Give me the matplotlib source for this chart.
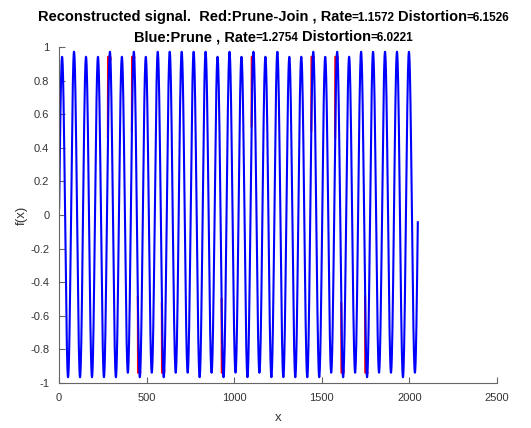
import numpy as np
import matplotlib.pyplot as plt

# length of the test signal and number of cycles it holds
n_samples = 2048
n_cycles = 30

# height of every peak / depth of every trough of the reconstructed signals
blue_peaks = [0.942, 0.972, 0.942, 0.942, 0.972, 0.942, 0.972, 0.942, 0.972, 0.972,
              0.972, 0.972, 0.972, 0.942, 0.972, 0.942, 0.972, 0.942, 0.972, 0.942,
              0.942, 0.972, 0.942, 0.972, 0.942, 0.972, 0.972, 0.972, 0.972, 0.972]
blue_troughs = [-0.966, -0.966, -0.966, -0.966, -0.966, -0.939, -0.966, -0.939, -0.966, -0.939,
                -0.939, -0.966, -0.939, -0.966, -0.939, -0.966, -0.939, -0.966, -0.966, -0.966,
                -0.966, -0.966, -0.939, -0.966, -0.939, -0.966, -0.939, -0.939, -0.966, -0.939]
red_peaks = [0.942, 0.972, 0.942, 0.942, 0.942, 0.942, 0.942, 0.942, 0.972, 0.972,
             0.972, 0.972, 0.972, 0.942, 0.972, 0.942, 0.942, 0.942, 0.972, 0.942,
             0.942, 0.942, 0.942, 0.942, 0.942, 0.972, 0.972, 0.972, 0.972, 0.972]
red_troughs = [-0.966, -0.966, -0.966, -0.966, -0.966, -0.939, -0.939, -0.939, -0.939, -0.939,
               -0.939, -0.966, -0.939, -0.939, -0.939, -0.966, -0.939, -0.966, -0.966, -0.966,
               -0.966, -0.966, -0.939, -0.939, -0.939, -0.939, -0.939, -0.939, -0.966, -0.939]

x_ticks = [0, 500, 1000, 1500, 2000, 2500]
y_ticks = [-1, -0.8, -0.6, -0.4, -0.2, 0, 0.2, 0.4, 0.6, 0.8, 1]


def half_cycle_amplitudes(peaks, troughs):
    amp = np.empty(2 * len(peaks))
    amp[0::2] = peaks
    amp[1::2] = np.abs(troughs)
    return amp


x = np.arange(1, n_samples + 1)
theta = 2 * np.pi * n_cycles * (x - 0.5) / n_samples
half = np.clip((theta // np.pi).astype(int), 0, 2 * n_cycles - 1)
s = np.sin(theta)
rising = (theta % np.pi) < np.pi / 2

blue_amp = half_cycle_amplitudes(blue_peaks, blue_troughs)
red_amp = half_cycle_amplitudes(red_peaks, red_troughs)
blue = blue_amp[half] * s

# where the join step changed an extremum, red steps up early to a flat top
lim = red_amp[half]
capped = np.sign(s) * np.minimum(np.abs(blue), lim)
stepped = np.where(rising & (np.abs(s) > 0.55), np.sign(s) * lim, capped)
red = np.where(red_amp[half] != blue_amp[half], stepped, blue)

# red is hidden under blue wherever they agree, so only draw the parts that differ
differs = red != blue
keep = differs | np.roll(differs, 1) | np.roll(differs, -1)
red_shown = np.where(keep, red, np.nan)

fig = plt.figure(figsize=(5.31, 4.28), dpi=100)
ax = fig.add_axes([59 / 531, 1 - 383 / 428, 438 / 531, 336 / 428])

ax.plot(x, red_shown, color='red', lw=1.5)
ax.plot(x, blue, color='blue', lw=1.5)

ax.set_xlim(0, 2500)
ax.set_ylim(-1, 1)
ax.set_xticks(x_ticks)
ax.set_xticklabels([str(v) for v in x_ticks])
ax.set_yticks(y_ticks)
ax.set_yticklabels(['%g' % v for v in y_ticks])
ax.tick_params(direction='in', length=4, width=0.8, color='#666666',
               labelsize=8, labelcolor='#333333', pad=7)
for side in ['top', 'right']:
    ax.spines[side].set_visible(False)
for side in ['left', 'bottom']:
    ax.spines[side].set_color('#666666')
    ax.spines[side].set_linewidth(0.8)
for lab in ax.get_xticklabels() + ax.get_yticklabels():
    lab.set_family('Liberation Sans')

ax.set_xlabel('x', fontsize=9.5, color='#333333', family='Liberation Sans', labelpad=7)
ax.set_ylabel('f(x)', fontsize=9.5, color='#333333', family='Liberation Sans', labelpad=2)

# two-line title with the numbers set in a smaller type
renderer = fig.canvas.get_renderer()
W, H = fig.bbox.width, fig.bbox.height


def title_line(y_px, parts, cx_px=273.5):
    texts, widths = [], []
    for text, size, gap in parts:
        t = fig.text(0, 1 - y_px / H, text, fontsize=size, fontweight='bold',
                     family='Liberation Sans', va='baseline', ha='left')
        texts.append(t)
        widths.append(t.get_window_extent(renderer).width + gap)
    x0 = cx_px - sum(widths) / 2
    for t, w in zip(texts, widths):
        t.set_x(x0 / W)
        x0 += w


big, small = 10.5, 8.5
title_line(21, [('Reconstructed signal.  Red:Prune-Join , Rate', big, 0),
                ('=1.1572', small, 3),
                ('Distortion', big, 0),
                ('=6.1526', small, 0)])
title_line(41, [('Blue:Prune , Rate', big, 0),
                ('=1.2754', small, 3),
                ('Distortion', big, 0),
                ('=6.0221', small, 0)])

fig.savefig('out.png', dpi=100)
